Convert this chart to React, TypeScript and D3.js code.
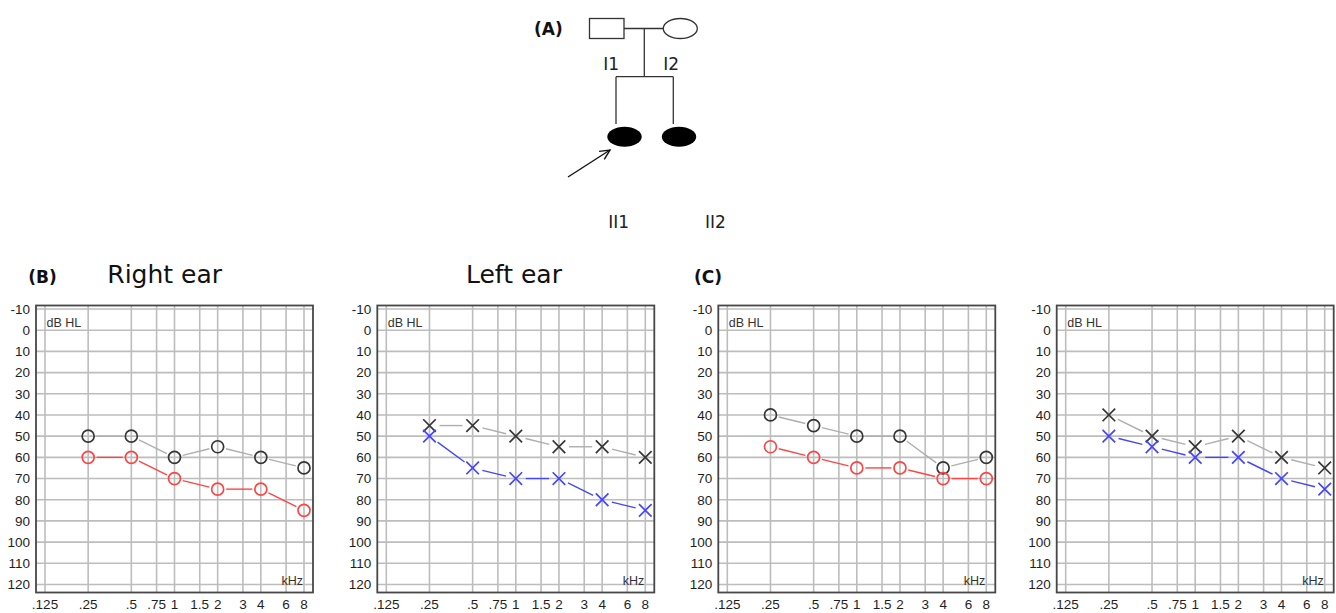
import React from "react"
import * as d3 from "d3"

// frequencies (kHz) where thresholds were measured
const freqs = [0.25, 0.5, 1, 2, 4, 8]
const gridFreqs = [0.125, 0.25, 0.5, 0.75, 1, 1.5, 2, 3, 4, 6, 8]
const freqLabels = [".125", ".25", ".5", ".75", "1", "1.5", "2", "3", "4", "6", "8"]
const dbTicks = [-10, 0, 10, 20, 30, 40, 50, 60, 70, 80, 90, 100, 110, 120]

// (B) proband
const bRightGray = [50, 50, 60, 55, 60, 65]
const bRightRed = [60, 60, 70, 75, 75, 85]
const bLeftGray = [45, 45, 50, 55, 55, 60]
const bLeftBlue = [50, 65, 70, 70, 80, 85]
// (C) sister
const cRightGray = [40, 45, 50, 50, 65, 60]
const cRightRed = [55, 60, 65, 65, 70, 70]
const cLeftGray = [40, 50, 55, 50, 60, 65]
const cLeftBlue = [50, 55, 60, 60, 70, 75]

const GRID = "#bdbdbd"
const FRAME = "#474747"
const GRAY_MARK = "#363636"
const GRAY_LINE = "#aeaeae"
const RED = "#ff4444"
const BLUE = "#4545ff"

const panelTop = 305.5
const panelW = 277
const panelH = 287

type Series = { values: number[]; marker: "o" | "x"; markColor: string; lineColor: string }

const Audiogram = ({ left, series }: { left: number; series: Series[] }) => {
  const x = d3.scaleLog().domain([0.125, 8]).range([left + 9, left + 268])
  const y = d3.scaleLinear().domain([-10, 120]).range([309, 584.5])

  const segs = (s: Series) => {
    const gap = s.marker === "o" ? 8.5 : 10
    const pts = s.values.map((v, i) => [x(freqs[i]), y(v)])
    return d3.pairs(pts).map(([a, b], i) => {
      const dx = b[0] - a[0], dy = b[1] - a[1]
      const len = Math.hypot(dx, dy)
      const ux = dx / len, uy = dy / len
      return (
        <line key={i} x1={a[0] + ux * gap} y1={a[1] + uy * gap} x2={b[0] - ux * gap} y2={b[1] - uy * gap}
          stroke={s.lineColor} strokeWidth={1.4} />
      )
    })
  }

  return (
    <g fontFamily="'Liberation Sans', Arial, sans-serif">
      {dbTicks.map(t => (
        <g key={t}>
          <line x1={left} x2={left + panelW} y1={y(t)} y2={y(t)} stroke={GRID} strokeWidth={1.6} />
          <text x={left - 6} y={y(t)} dy="0.36em" textAnchor="end" fontSize={13.5} fill="#1e1e1e">{t}</text>
        </g>
      ))}
      {gridFreqs.map((f, i) => (
        <g key={f}>
          <line x1={x(f)} x2={x(f)} y1={panelTop} y2={panelTop + panelH} stroke={GRID} strokeWidth={1.6} />
          <text x={x(f)} y={609} textAnchor="middle" fontSize={13.5} fill="#1e1e1e">{freqLabels[i]}</text>
        </g>
      ))}
      <rect x={left} y={panelTop} width={panelW} height={panelH} fill="none" stroke={FRAME} strokeWidth={1.8} />
      <text x={left + 10.5} y={panelTop + 21} fontSize={12.5} fill="#333">dB HL</text>
      <text x={left + 267} y={panelTop + 279.5} fontSize={12.5} fill="#333" textAnchor="end">kHz</text>
      {series.map((s, si) => (
        <g key={si}>
          {segs(s)}
          {s.values.map((v, i) => {
            const cx = x(freqs[i]), cy = y(v)
            return s.marker === "o"
              ? <circle key={i} cx={cx} cy={cy} r={6} fill="none" stroke={s.markColor} strokeWidth={1.7} />
              : <path key={i} d={`M${cx - 6.3},${cy - 6.3}L${cx + 6.3},${cy + 6.3}M${cx - 6.3},${cy + 6.3}L${cx + 6.3},${cy - 6.3}`}
                  stroke={s.markColor} strokeWidth={1.7} fill="none" />
          })}
        </g>
      ))}
    </g>
  )
}

const Pedigree = () => {
  const ink = "#333"
  const tip: [number, number] = [610, 150]
  const tail: [number, number] = [568, 177]
  const ang = Math.atan2(tail[1] - tip[1], tail[0] - tip[0])
  const head = (da: number) => [tip[0] + 11 * Math.cos(ang + da), tip[1] + 11 * Math.sin(ang + da)]
  const h1 = head(0.45), h2 = head(-0.45)
  return (
    <g>
      <text x={534} y={34.5} fontFamily="'DejaVu Sans', sans-serif" fontWeight="bold" fontSize={17} fill="#111">(A)</text>
      <rect x={589.5} y={18.5} width={34.5} height={20} fill="#fff" stroke={ink} strokeWidth={1.3} />
      <line x1={624} x2={663.3} y1={28.5} y2={28.5} stroke={ink} strokeWidth={1.3} />
      <ellipse cx={680.3} cy={28.5} rx={17} ry={10} fill="#fff" stroke={ink} strokeWidth={1.3} />
      <line x1={644.3} x2={644.3} y1={28.5} y2={76.7} stroke={ink} strokeWidth={1.3} />
      <line x1={616} x2={673.3} y1={76.7} y2={76.7} stroke={ink} strokeWidth={1.3} />
      <line x1={616} x2={616} y1={76.7} y2={124} stroke={ink} strokeWidth={1.3} />
      <line x1={673.3} x2={673.3} y1={76.7} y2={124} stroke={ink} strokeWidth={1.3} />
      <ellipse cx={624.5} cy={136.7} rx={17.2} ry={10} fill="#000" />
      <ellipse cx={679} cy={136.7} rx={17.2} ry={10} fill="#000" />
      <line x1={tail[0]} y1={tail[1]} x2={tip[0]} y2={tip[1]} stroke="#111" strokeWidth={1.4} />
      <polyline points={`${h1[0]},${h1[1]} ${tip[0]},${tip[1]} ${h2[0]},${h2[1]}`} fill="none" stroke="#111" strokeWidth={1.4} />
      <g fontFamily="'DejaVu Sans', sans-serif" fontSize={17} fill="#222">
        <text x={603.3} y={70}>I1</text>
        <text x={663.3} y={70}>I2</text>
        <text x={608.3} y={228.3}>II1</text>
        <text x={705} y={228.3}>II2</text>
      </g>
    </g>
  )
}

export default function App() {
  return (
    <svg width={1336} height={613} style={{ position: "absolute", left: 0, top: 0, background: "#fff" }}>
      <rect width={1336} height={613} fill="#fff" />
      <Pedigree />
      <g fontFamily="'DejaVu Sans', sans-serif" fill="#111">
        <text x={28.3} y={283} fontWeight="bold" fontSize={17}>(B)</text>
        <text x={107.3} y={283} fontSize={25}>Right ear</text>
        <text x={466} y={283} fontSize={25}>Left ear</text>
        <text x={694} y={283} fontWeight="bold" fontSize={17}>(C)</text>
      </g>
      <Audiogram left={36} series={[
        { values: bRightGray, marker: "o", markColor: GRAY_MARK, lineColor: GRAY_LINE },
        { values: bRightRed, marker: "o", markColor: RED, lineColor: RED },
      ]} />
      <Audiogram left={377.3} series={[
        { values: bLeftGray, marker: "x", markColor: GRAY_MARK, lineColor: GRAY_LINE },
        { values: bLeftBlue, marker: "x", markColor: BLUE, lineColor: BLUE },
      ]} />
      <Audiogram left={718.3} series={[
        { values: cRightGray, marker: "o", markColor: GRAY_MARK, lineColor: GRAY_LINE },
        { values: cRightRed, marker: "o", markColor: RED, lineColor: RED },
      ]} />
      <Audiogram left={1056.7} series={[
        { values: cLeftGray, marker: "x", markColor: GRAY_MARK, lineColor: GRAY_LINE },
        { values: cLeftBlue, marker: "x", markColor: BLUE, lineColor: BLUE },
      ]} />
    </svg>
  )
}
